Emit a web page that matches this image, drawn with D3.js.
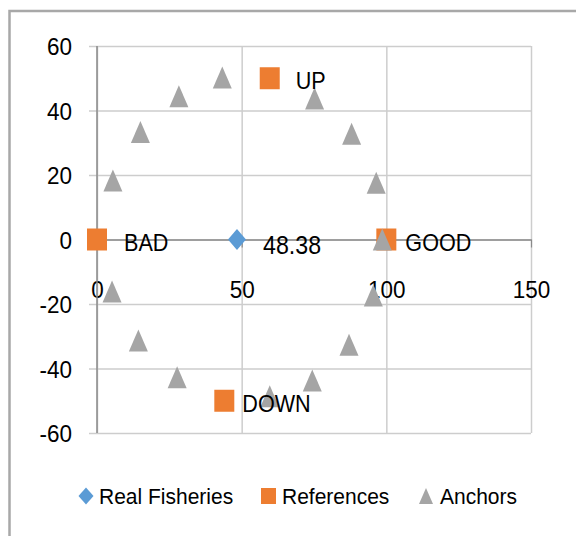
<!DOCTYPE html>
<html>
<head>
<meta charset="utf-8">
<script src="https://cdn.jsdelivr.net/npm/d3@7"></script>
<style>
  html, body { margin: 0; padding: 0; background: #ffffff; }
  svg { display: block; font-family: "Liberation Sans", Arial, sans-serif; }
</style>
</head>
<body>
<svg id="chart" width="576" height="536"></svg>
<script>
// ---------------- DATA ----------------
const seriesNames = ["Real Fisheries", "References", "Anchors"];

const realX = [48.38];
const realY = [0];
const realLabels = ["48.38"];

const refX = [0, 100, 59.7, 44.0];
const refY = [0, 0, 50, -50];
const refLabels = ["BAD", "GOOD", "UP", "DOWN"];

const anchorX = [5.5, 15.0, 28.3, 43.3, 75.2, 88.0, 96.5, 98.6, 95.5, 87.1, 74.4, 59.7, 27.7, 14.3, 5.2];
const anchorY = [18.3, 33.3, 44.4, 50.2, 43.7, 32.8, 17.6, 0, -17.4, -32.6, -43.7, -48.6, -42.7, -31.3, -16.1];

const xTicks = [0, 50, 100, 150];
const yTicks = [-60, -40, -20, 0, 20, 40, 60];

// ---------------- LAYOUT ----------------
const W = 576, H = 536;
const plot = { left: 97, right: 531, top: 46, bottom: 433 };
const colors = { real: "#5B9BD5", ref: "#ED7D31", anchor: "#A5A5A5",
                 grid: "#cdcdcd", axis: "#8a8a8a", border: "#a8a8a8", text: "#000000" };
const SY = 1.1; // vertical stretch of the original picture

const svg = d3.select("#chart");

const x = d3.scaleLinear().domain([0, 150]).range([plot.left, plot.right]);
const y = d3.scaleLinear().domain([-60, 60]).range([plot.bottom, plot.top]);

// outer border
svg.append("rect")
  .attr("x", 9.5).attr("y", 11).attr("width", 700).attr("height", 700)
  .attr("fill", "none").attr("stroke", colors.border).attr("stroke-width", 2.5);

// horizontal gridlines + y tick labels
const yAxisG = svg.append("g")
  .attr("transform", `translate(${x(150)},0)`)
  .call(d3.axisLeft(y).tickValues(yTicks).tickSize(x(150) - x(0) + 8).tickPadding(0).tickFormat(d => d));
yAxisG.select(".domain").remove();
yAxisG.selectAll("line").attr("stroke", colors.grid).attr("stroke-width", 1.5);
yAxisG.selectAll("text")
  .attr("x", 0).attr("dy", null).attr("fill", colors.text)
  .style("font-size", "22.5px")
  .attr("transform", `translate(${-(x(150) - 72)},8.6) scale(1,${SY})`);
yAxisG.attr("font-family", null).attr("font-size", null);

// vertical gridlines
const xGridG = svg.append("g")
  .attr("transform", `translate(0,${y(60)})`)
  .call(d3.axisBottom(x).tickValues(xTicks).tickSize(y(-60) - y(60)).tickFormat(""));
xGridG.select(".domain").remove();
xGridG.selectAll("line").attr("stroke", colors.grid).attr("stroke-width", 1.5);

// x axis at y = 0 with ticks and labels
const xAxisG = svg.append("g")
  .attr("transform", `translate(0,${y(0)})`)
  .call(d3.axisBottom(x).tickValues(xTicks).tickSize(8).tickPadding(0).tickSizeOuter(0).tickFormat(d => d));
xAxisG.select(".domain").attr("stroke", colors.axis).attr("stroke-width", 1.5);
xAxisG.selectAll("line").attr("stroke", colors.axis).attr("stroke-width", 1.2);
xAxisG.selectAll("text")
  .attr("y", 0).attr("dy", null).attr("fill", colors.text)
  .style("font-size", "22.5px")
  .attr("transform", `translate(0,${298 - y(0)}) scale(1,${SY})`);
xAxisG.attr("font-family", null).attr("font-size", null);

// y axis line at x = 0
svg.append("line")
  .attr("x1", x(0)).attr("x2", x(0)).attr("y1", y(60)).attr("y2", y(-60))
  .attr("stroke", colors.axis).attr("stroke-width", 1.5);

// ---------------- MARKERS ----------------
function diamondPath(w, h) { return `M0,${-h/2}L${w/2},0L0,${h/2}L${-w/2},0Z`; }
function squarePath(w, h) { return `M${-w/2},${-h/2}H${w/2}V${h/2}H${-w/2}Z`; }
function trianglePath(w, h) { return `M0,${-h/2}L${w/2},${h/2}L${-w/2},${h/2}Z`; }

const realData = realX.map((v, i) => ({ x: v, y: realY[i], label: realLabels[i] }));
const refData = refX.map((v, i) => ({ x: v, y: refY[i], label: refLabels[i] }));
const anchorData = anchorX.map((v, i) => ({ x: v, y: anchorY[i] }));

svg.append("g").selectAll("path").data(realData).join("path")
  .attr("d", diamondPath(18, 21))
  .attr("transform", d => `translate(${x(d.x)},${y(d.y)})`)
  .attr("fill", colors.real);

svg.append("g").selectAll("path").data(refData).join("path")
  .attr("d", squarePath(20, 22))
  .attr("transform", d => `translate(${x(d.x)},${y(d.y)})`)
  .attr("fill", colors.ref);

svg.append("g").selectAll("path").data(anchorData).join("path")
  .attr("d", trianglePath(19, 22))
  .attr("transform", d => `translate(${x(d.x)},${y(d.y)})`)
  .attr("fill", colors.anchor);

// ---------------- DATA LABELS ----------------
const labelOffsets = {
  "BAD":   { dx: 27, dy: 11.5, size: 21.6 },
  "GOOD":  { dx: 19, dy: 11.5, size: 21.6 },
  "UP":    { dx: 26, dy: 11,   size: 21.6 },
  "DOWN":  { dx: 18, dy: 11.5, size: 21.6 },
  "48.38": { dx: 26, dy: 14.5, size: 23.2 }
};
const labelData = realData.concat(refData);
svg.append("g").selectAll("text").data(labelData).join("text")
  .attr("transform", d => {
    const o = labelOffsets[d.label];
    return `translate(${x(d.x) + o.dx},${y(d.y) + o.dy}) scale(1,${SY + 0.05})`;
  })
  .style("font-size", d => labelOffsets[d.label].size + "px")
  .attr("fill", colors.text)
  .text(d => d.label);

// ---------------- LEGEND ----------------
const legendY = 496;
const legendItems = [
  { name: seriesNames[0], cx: 86,    tx: 99,  color: colors.real,   path: diamondPath(15, 17) },
  { name: seriesNames[1], cx: 268.5, tx: 282, color: colors.ref,    path: squarePath(15, 16) },
  { name: seriesNames[2], cx: 426,   tx: 440, color: colors.anchor, path: trianglePath(14, 16) }
];
const lg = svg.append("g");
lg.selectAll("path").data(legendItems).join("path")
  .attr("d", d => d.path)
  .attr("transform", d => `translate(${d.cx},${legendY})`)
  .attr("fill", d => d.color);
lg.selectAll("text").data(legendItems).join("text")
  .attr("transform", d => `translate(${d.tx},${legendY + 7.8}) scale(1,${SY - 0.03})`)
  .style("font-size", "21px")
  .attr("fill", colors.text)
  .text(d => d.name);
</script>
</body>
</html>
